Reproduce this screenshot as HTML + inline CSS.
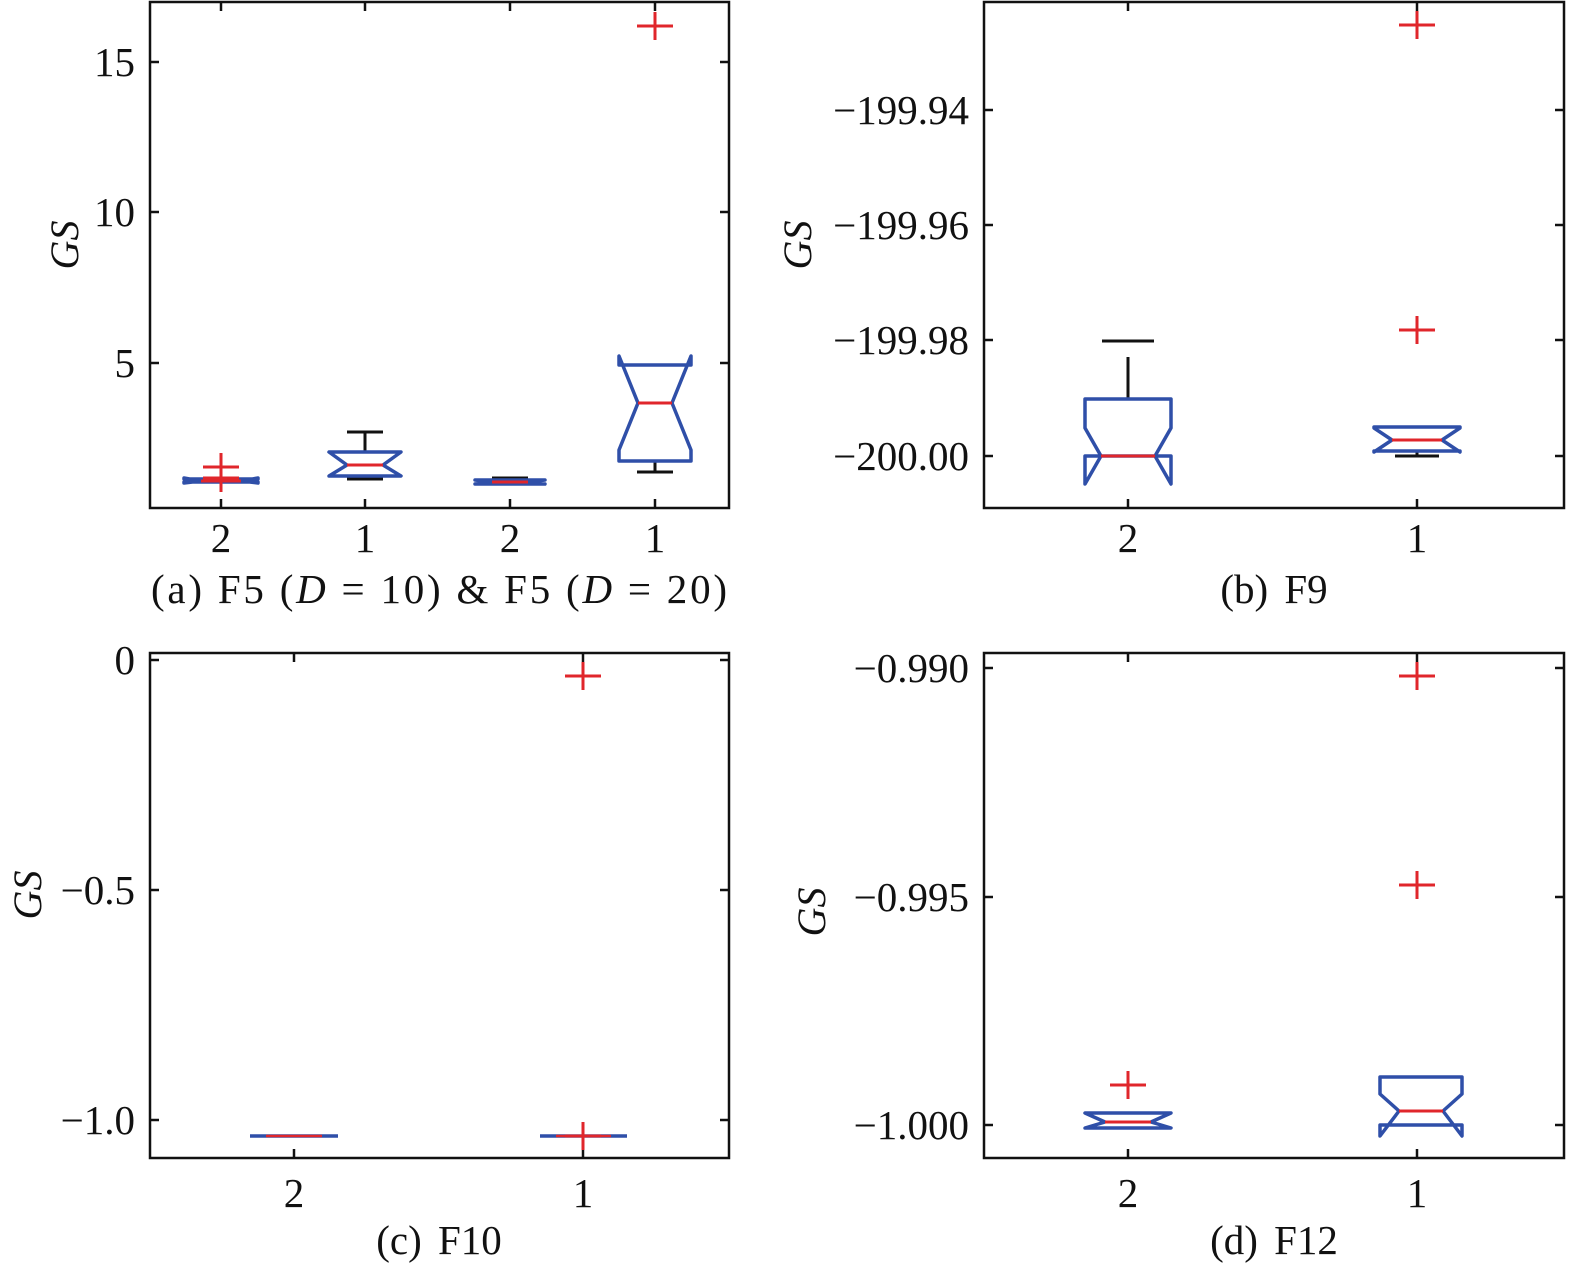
<!DOCTYPE html>
<html><head><meta charset="utf-8"><style>
html,body{margin:0;padding:0;background:#fff;}
svg{display:block;}
text{font-family:"Liberation Serif",serif;fill:#111;}
</style></head><body>
<svg id="s" width="1575" height="1270" xmlns="http://www.w3.org/2000/svg">
<g fill="none" stroke="#111" stroke-width="2.5">
<rect x="150" y="2" width="579" height="506"/>
<rect x="984" y="2" width="580" height="506"/>
<rect x="150" y="653" width="579" height="505"/>
<rect x="984" y="653" width="580" height="505"/>
</g>
<g id="g"></g>
<g font-size="41" text-anchor="end">
<text x="135" y="76">15</text><text x="135" y="226">10</text><text x="135" y="377">5</text>
<text x="969" y="124">−199.94</text><text x="969" y="239">−199.96</text><text x="969" y="354">−199.98</text><text x="969" y="470">−200.00</text>
<text x="135" y="674">0</text><text x="135" y="904">−0.5</text><text x="135" y="1134">−1.0</text>
<text x="969" y="682">−0.990</text><text x="969" y="911">−0.995</text><text x="969" y="1139">−1.000</text>
</g>
<g font-size="41" text-anchor="middle">
<text x="221" y="552">2</text><text x="365" y="552">1</text><text x="510" y="552">2</text><text x="655" y="552">1</text>
<text x="1128" y="552">2</text><text x="1417" y="552">1</text>
<text x="294" y="1207">2</text><text x="583" y="1207">1</text>
<text x="1128" y="1207">2</text><text x="1417" y="1207">1</text>
<text x="439" y="603" textLength="576" lengthAdjust="spacing">(a) F5 (<tspan font-style="italic">D</tspan> = 10) &amp; F5 (<tspan font-style="italic">D</tspan> = 20)</text>
<text x="1274" y="603" word-spacing="6">(b) F9</text>
<text x="439" y="1254" word-spacing="6">(c) F10</text>
<text x="1274" y="1254" word-spacing="6">(d) F12</text>
</g>
<g font-size="40" font-style="italic" text-anchor="middle">
<text transform="translate(78,245) rotate(-90)">GS</text>
<text transform="translate(811,245) rotate(-90)">GS</text>
<text transform="translate(41,895) rotate(-90)">GS</text>
<text transform="translate(825,912) rotate(-90)">GS</text>
</g>
</svg>
<script>
var g=document.getElementById('g'),h='';
function L(x1,y1,x2,y2,c,w){h+='<line x1="'+x1+'" y1="'+y1+'" x2="'+x2+'" y2="'+y2+'" stroke="'+c+'" stroke-width="'+(w||3)+'"/>';}
function ticks(x0,x1,y0,y1,ys,xs){ys.forEach(function(y){L(x0,y,x0+9,y,'#111',2.5);L(x1-9,y,x1,y,'#111',2.5);});xs.forEach(function(x){L(x,y1,x,y1-9,'#111',2.5);L(x,y0,x,y0+9,'#111',2.5);});}
ticks(150,729,2,508,[62,212,363],[221,365,510,655]);
ticks(984,1564,2,508,[110,225,340,456],[1128,1417]);
ticks(150,729,653,1158,[660,890,1120],[294,583]);
ticks(984,1564,653,1158,[668,897,1125],[1128,1417]);
function box(c,hw0,yt,yb,ym,nt,nb,hw){var x0=c-hw0,x1=c+hw0;
h+='<path d="M'+x0+','+yt+'L'+x1+','+yt+'L'+x1+','+nt+'L'+(c+hw)+','+ym+'L'+x1+','+nb+'L'+x1+','+yb+'L'+x0+','+yb+'L'+x0+','+nb+'L'+(c-hw)+','+ym+'L'+x0+','+nt+'Z" fill="none" stroke="#2f4fa8" stroke-width="3.5" stroke-linejoin="round"/>';
L(c-hw,ym,c+hw,ym,'#e0262b',3);}
function wh(c,y1,y2,cy,cw){L(c,y1,c,y2,'#111');L(c-cw,cy,c+cw,cy,'#111');}
function plus(x,y){L(x-18,y,x+18,y,'#e0262b',3);L(x,y-14,x,y+14,'#e0262b',3);}
box(221,37,479,482,481,478,483,20);plus(221,467);plus(221,478);
wh(365,432,452,432,18);wh(365,476,479,479,18);box(365,36,452,476,465,452,476,18);
wh(510,478,480,478,18);box(510,35,480,484,482,480,484,18);
wh(655,461,472,472,18);box(655,36,365,461,403,356,450,17);plus(655,26);
wh(1128,357,399,341,26);box(1128,43,399,456,456,428,484,27);
wh(1417,451,456,456,22);box(1417,43,427,451,440,428,452,25);plus(1417,25);plus(1417,330);
L(250,1136,338,1136,'#2f4fa8',3.5);L(266,1136,322,1136,'#e0262b',2.5);
L(540,1136,627,1136,'#2f4fa8',3.5);L(556,1136,611,1136,'#e0262b',2.5);plus(583,676);plus(583,1136);
box(1128,43,1113,1128,1122,1113,1128,23);plus(1128,1085);
box(1421,41,1077,1125,1111,1094,1136,22);plus(1417,676);plus(1417,885);
g.innerHTML=h;
</script>
</body></html>
